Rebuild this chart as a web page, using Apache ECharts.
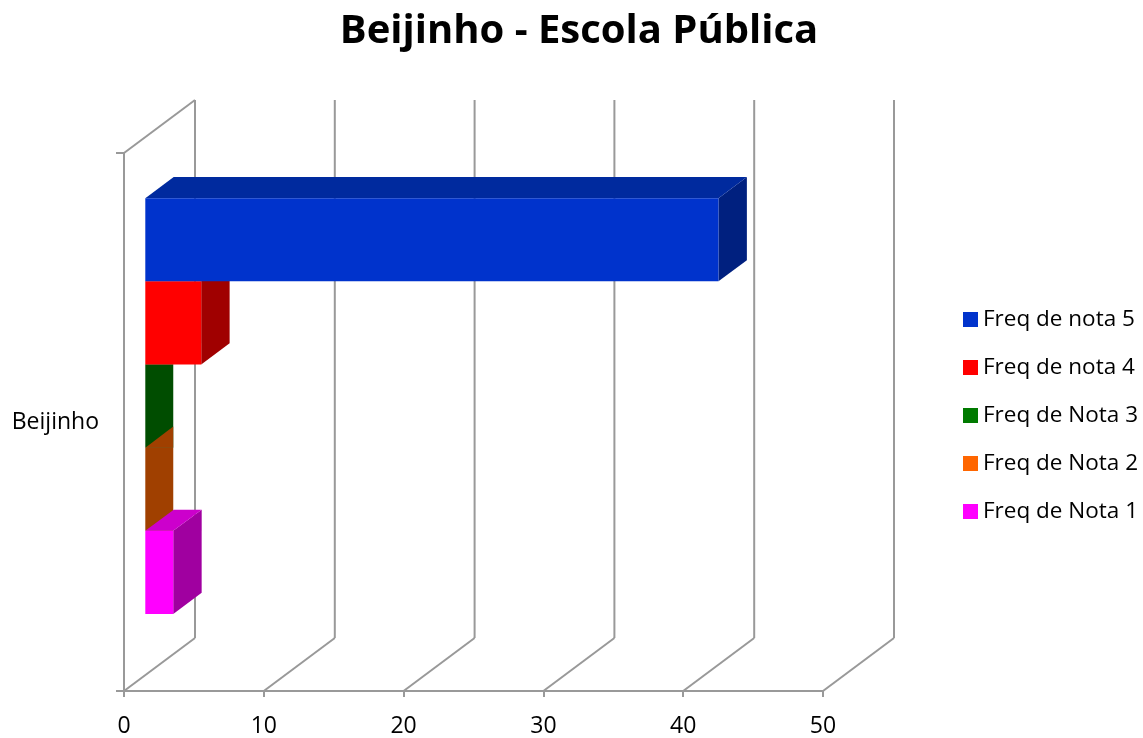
<!DOCTYPE html>
<html>
<head>
<meta charset="utf-8">
<script src="https://cdn.jsdelivr.net/npm/echarts@6/dist/echarts.min.js"></script>
<style>
  html, body { margin: 0; padding: 0; background: #fff; }
  #chart { width: 1143px; height: 738px; }
</style>
</head>
<body>
<div id="chart"></div>
<script>
// ---- data ----
const categories = ['Beijinho'];
const seriesNames = ['Freq de nota 5', 'Freq de nota 4', 'Freq de Nota 3', 'Freq de Nota 2', 'Freq de Nota 1'];
const seriesValues = [41, 4, 2, 2, 2];
const xTicks = [0, 10, 20, 30, 40, 50];
const titleText = 'Beijinho - Escola Pública';

// ---- styles ----
const FONT = '"Open Sans", Lato, sans-serif';
const legendColors = ['#0033CC', '#FF0000', '#007A00', '#FF6600', '#FF00FF'];
const faceColors = [
  { front: '#0033CC', top: '#002A9E', side: '#00207F', clipTop: false },
  { front: '#FF0000', top: '#C00000', side: '#A00000', clipTop: false },
  { front: '#004D00', top: '#004D00', side: null, clipTop: true },
  { front: '#A04000', top: '#A04000', side: null, clipTop: true },
  { front: '#FF00FF', top: '#CC00CC', side: '#A000A0', clipTop: false }
];
const DEPTH = [71, -53];       // full depth offset of the 3D box (px)
const BAR_FRONT = 0.3, BAR_DEPTH = 0.4;
const BAR_GROUP = 0.773;       // fraction of category band used by bars
const GRID_COLOR = '#999999';

function barRenderer(pos) {
  const fc = faceColors[pos];
  return function (params, api) {
    const v = api.value(0);
    const cat = api.value(1);
    const p0 = api.coord([0, cat]);
    const p1 = api.coord([v, cat]);
    const band = api.size([0, 1])[1];
    const n = seriesValues.length;
    const barH = band * BAR_GROUP / n;
    const top = p0[1] - n / 2 * barH + pos * barH;
    const fx = DEPTH[0] * BAR_FRONT, fy = DEPTH[1] * BAR_FRONT;
    const dx = DEPTH[0] * BAR_DEPTH, dy = DEPTH[1] * BAR_DEPTH;
    const x0 = p0[0] + fx, x1 = p1[0] + fx;
    const y0 = top + fy, y1 = y0 + barH;
    const children = [];
    if (fc.side) children.push({
      type: 'polygon',
      shape: { points: [[x1, y0], [x1 + dx, y0 + dy], [x1 + dx, y1 + dy], [x1, y1]] },
      style: { fill: fc.side }
    });
    const topPts = fc.clipTop
      ? [[x0, y0], [Math.min(x0 + dx, x1), y0 + dy], [x1, y0 + dy], [x1, y0]]
      : [[x0, y0], [x1, y0], [x1 + dx, y0 + dy], [x0 + dx, y0 + dy]];
    children.push({ type: 'polygon', shape: { points: topPts }, style: { fill: fc.top } });
    children.push({
      type: 'rect',
      shape: { x: x0, y: y0, width: x1 - x0, height: y1 - y0 },
      style: { fill: fc.front }
    });
    return { type: 'group', children: children };
  };
}

function wallRenderer(params, api) {
  const v = api.value(0);
  const p = api.coord([v, 0]);
  const band = api.size([0, 1])[1];
  const bottom = p[1] + band / 2, top = p[1] - band / 2;
  const x = p[0];
  const ls = { stroke: GRID_COLOR, lineWidth: 2, fill: null };
  const children = [
    { type: 'line', shape: { x1: x, y1: bottom, x2: x + DEPTH[0], y2: bottom + DEPTH[1] }, style: ls },
    { type: 'line', shape: { x1: x + DEPTH[0], y1: bottom + DEPTH[1], x2: x + DEPTH[0], y2: top + DEPTH[1] }, style: ls }
  ];
  if (params.dataIndex === 0) {
    children.push({ type: 'line', shape: { x1: x, y1: top, x2: x + DEPTH[0], y2: top + DEPTH[1] }, style: ls });
  }
  return { type: 'group', children: children };
}

const chart = echarts.init(document.getElementById('chart'));

// draw order: green, brown, magenta, red, blue (wall first)
const drawOrder = [2, 3, 4, 1, 0];
const series = [{
  type: 'custom',
  name: '__wall',
  renderItem: wallRenderer,
  data: xTicks.map(t => [t, categories[0]]),
  encode: { x: 0, y: 1 },
  silent: true,
  z: 1
}];
drawOrder.forEach(i => {
  series.push({
    type: 'custom',
    name: seriesNames[i],
    renderItem: barRenderer(i),
    itemStyle: { color: legendColors[i] },
    data: categories.map(c => [seriesValues[i], c]),
    encode: { x: 0, y: 1 },
    z: 2
  });
});

chart.setOption({
  animation: false,
  backgroundColor: '#ffffff',
  title: {
    text: titleText,
    left: 574,
    top: 7,
    textAlign: 'center',
    textStyle: { fontFamily: FONT, fontSize: 40, fontWeight: 'bold', color: '#000' }
  },
  legend: {
    data: seriesNames,
    orient: 'vertical',
    left: 958,
    top: 303,
    itemWidth: 15,
    itemHeight: 15,
    itemGap: 25,
    itemStyle: { borderWidth: 0 },
    icon: 'rect',
    textStyle: { fontFamily: FONT, fontSize: 22.5, color: '#000' }
  },
  grid: { left: 124, top: 153, width: 699, height: 538, containLabel: false },
  xAxis: {
    type: 'value',
    min: 0, max: 50, interval: 10,
    axisLine: { show: true, lineStyle: { color: GRID_COLOR, width: 2 } },
    axisTick: { show: true, length: 6, lineStyle: { color: GRID_COLOR, width: 2 } },
    splitLine: { show: false },
    axisLabel: { fontFamily: FONT, fontSize: 23, color: '#000', margin: 24 }
  },
  yAxis: {
    type: 'category',
    data: categories,
    axisLine: { show: true, lineStyle: { color: GRID_COLOR, width: 2 } },
    axisTick: { show: true, length: 8, lineStyle: { color: GRID_COLOR, width: 2 } },
    splitLine: { show: false },
    axisLabel: { fontFamily: FONT, fontSize: 23, color: '#000', margin: 25 }
  },
  series: series
});
</script>
</body>
</html>
